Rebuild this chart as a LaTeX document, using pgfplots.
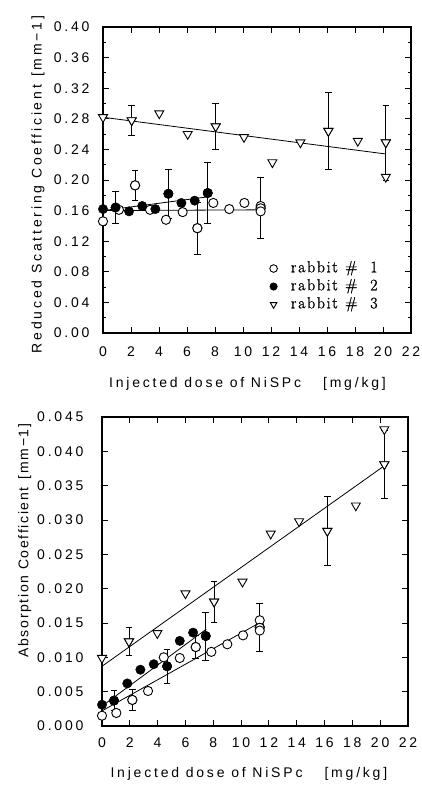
\documentclass[border=0pt]{standalone}
\usepackage{fontspec}
\usepackage{pgfplots}
\pgfplotsset{compat=1.18}
\newfontfamily\axfont[LetterSpace=20]{Liberation Sans}
\newfontfamily\axfontb[LetterSpace=12]{Liberation Sans}
\newfontfamily\legfont[LetterSpace=10, FakeBold=1]{Latin Modern Roman}
\newcommand\axf{\axfont\fontsize{14}{16}\selectfont}
\newcommand\axfb{\axfontb\fontsize{14}{16}\selectfont}

\pgfplotsset{
  myaxis/.style={
    scale only axis,
    tick align=inside, tick pos=both, ticklabel pos=left,
    major tick length=6pt, minor tick length=3pt,
    axis line style={line width=1.3pt},
    every tick/.style={black, line width=0.9pt},
    xmin=0, xmax=22, xtick={0,2,4,6,8,10,12,14,16,18,20,22},
    ticklabel style={font=\axf},
    scaled ticks=false,
    /pgf/number format/assume math mode=true,
    xticklabel style={anchor=base},
    yticklabel style={anchor=east},
  },
  errb/.style={only marks, forget plot,
    error bars/.cd, y dir=both, y explicit,
    error mark=-, error mark options={rotate=90, mark size=3.3pt, line width=0.9pt, black},
    error bar style={line width=0.9pt, black}},
  r1/.style={only marks, mark=*, mark size=4.6pt, mark options={fill=white, draw=black, line width=0.9pt}},
  r2/.style={only marks, mark=*, mark size=4.7pt, mark options={fill=black, draw=black}},
  r3/.style={only marks, mark=triangle*, mark size=5.2pt, mark options={rotate=180, fill=white, draw=black, line width=0.9pt}},
  fit/.style={black, line width=0.8pt, no marks, forget plot},
}

\begin{document}
\begin{tikzpicture}
\useasboundingbox (0,0) rectangle (422pt,787pt);

% ---------------- top: reduced scattering ----------------
\begin{axis}[myaxis,
  at={(103pt,454pt)}, anchor=south west, width=308pt, height=306pt,
  ymin=0, ymax=0.40,
  ytick={0,0.04,0.08,0.12,0.16,0.20,0.24,0.28,0.32,0.36,0.40},
  minor y tick num=1,
  yticklabel style={/pgf/number format/fixed, /pgf/number format/fixed zerofill, /pgf/number format/precision=2, xshift=-10pt},
  xticklabel style={yshift=-24pt},
  xlabel={Injected dose of NiSPc\hspace{22pt}[mg/kg]},
  xlabel style={font=\axf, at={([yshift=-55pt]axis description cs:0.469,0)}, anchor=base},
  ylabel={Reduced Scattering Coefficient\hspace{8pt}[mm−1]},
  ylabel style={font=\axf, at={([xshift=-61.3pt]axis description cs:0,0.485)}, anchor=base},
  legend style={at={(axis cs:11.9,0.094)}, anchor=north west, draw=none, fill=none,
    inner sep=0pt, font=\legfont\fontsize{16}{18}\selectfont, row sep=3.5pt,
    nodes={inner sep=0.5pt, text height=10.5pt, text depth=3pt},
    /tikz/every odd column/.append style={column sep=13pt}},
  legend cell align=left,
  legend image post style={mark size=3.8pt},
]
% fitted lines
\addplot[fit] coordinates {(0,0.160) (11.3,0.161)};
\addplot[fit] coordinates {(0,0.160) (7.5,0.178)};
\addplot[fit] coordinates {(0,0.282) (20.2,0.234)};
% error bars
\addplot[r1, errb] coordinates {(2.29,0.193) +- (0,0.020) (6.74,0.137) +- (0,0.034) (11.26,0.163) +- (0,0.040)};
\addplot[r2, errb] coordinates {(0.9,0.164) +- (0,0.021) (4.67,0.182) +- (0,0.032) (7.48,0.183) +- (0,0.040)};
\addplot[r3, errb] coordinates {(2.05,0.278) +- (0,0.020) (8.05,0.270) +- (0,0.030) (16.1,0.264) +- (0,0.050) (20.2,0.249) +- (0,0.049)};
% data
\addplot[r1] coordinates {(0,0.146) (1.14,0.161) (2.29,0.193) (3.36,0.161) (4.5,0.148) (5.69,0.158) (6.74,0.137) (7.88,0.170) (9.02,0.162) (10.1,0.170) (11.26,0.166) (11.26,0.163) (11.26,0.159)};
\addlegendentry{rabbit\hspace{0.45em}\#\hspace{0.8em}1}
\addplot[r2] coordinates {(0,0.162) (0.9,0.164) (1.86,0.159) (2.8,0.166) (3.74,0.162) (4.67,0.182) (5.6,0.170) (6.55,0.173) (7.48,0.183)};
\addlegendentry{rabbit\hspace{0.45em}\#\hspace{0.8em}2}
\addplot[r3] coordinates {(0,0.282) (2.05,0.278) (4.02,0.287) (6.05,0.260) (8.05,0.270) (10.07,0.256) (12.1,0.223) (14.1,0.249) (16.1,0.264) (18.2,0.251) (20.2,0.249) (20.2,0.204)};
\addlegendentry{rabbit\hspace{0.45em}\#\hspace{0.8em}3}
\end{axis}

% ---------------- bottom: absorption ----------------
\begin{axis}[myaxis,
  at={(102pt,61pt)}, anchor=south west, width=306pt, height=309pt,
  ymin=0, ymax=0.045,
  ytick={0,0.005,0.010,0.015,0.020,0.025,0.030,0.035,0.040,0.045},
  yticklabel style={/pgf/number format/fixed, /pgf/number format/fixed zerofill, /pgf/number format/precision=3, xshift=-15pt},
  xticklabel style={yshift=-22pt},
  xlabel={Injected dose of NiSPc\hspace{22pt}[mg/kg]},
  xlabel style={font=\axf, at={([yshift=-52pt]axis description cs:0.48,0)}, anchor=base},
  ylabel={Absorption Coefficient\hspace{8pt}[mm−1]},
  ylabel style={font=\axfb, at={([xshift=-73.7pt]axis description cs:0,0.6)}, anchor=base},
]
\addplot[fit] coordinates {(0,0.0022) (11.3,0.0150)};
\addplot[fit] coordinates {(0,0.0029) (7.5,0.0141)};
\addplot[fit] coordinates {(0,0.0087) (20.3,0.0379)};
\addplot[r1, errb] coordinates {(2.18,0.0038) +- (0,0.0015) (6.74,0.0115) +- (0,0.0017) (11.34,0.0144) +- (0,0.0035)};
\addplot[r2, errb] coordinates {(0.86,0.0037) +- (0,0.0015) (4.68,0.0087) +- (0,0.0025) (7.46,0.0131) +- (0,0.0035)};
\addplot[r3, errb] coordinates {(1.94,0.0123) +- (0,0.0020) (8.06,0.0181) +- (0,0.0030) (16.2,0.0284) +- (0,0.0050) (20.3,0.0381) +- (0,0.0050)};
\addplot[r1] coordinates {(0,0.0015) (1.03,0.0019) (2.18,0.0038) (3.31,0.0051) (4.44,0.0100) (5.59,0.0099) (6.74,0.0115) (7.86,0.0108) (9.01,0.0119) (10.14,0.0132) (11.34,0.0154) (11.34,0.0143) (11.34,0.0139)};
\addplot[r2] coordinates {(0,0.0031) (0.86,0.0037) (1.82,0.0062) (2.76,0.0082) (3.72,0.0090) (4.68,0.0087) (5.59,0.0124) (6.55,0.0136) (7.46,0.0131)};
\addplot[r3] coordinates {(0,0.0099) (1.94,0.0123) (3.98,0.0135) (6.0,0.0193) (8.06,0.0181) (10.1,0.0210) (12.13,0.0280) (14.17,0.0298) (16.2,0.0284) (18.25,0.0321) (20.3,0.0381) (20.3,0.0432)};
\end{axis}
\end{tikzpicture}
\end{document}
